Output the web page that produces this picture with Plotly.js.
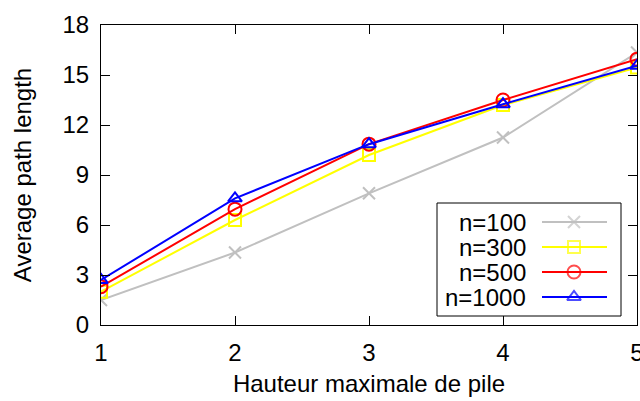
<!DOCTYPE html>
<html><head><meta charset="utf-8">
<script src="https://cdn.plot.ly/plotly-3.0.1.min.js"></script>
<style>body{margin:0;background:#fff}#c{width:640px;height:401px}</style>
</head><body><div id="c"></div>
<script>
const heights = [1, 2, 3, 4, 5];
const xTickLabels = ['1', '2', '3', '4', '5'];
const seriesNames = ['n=100', 'n=300', 'n=500', 'n=1000'];
const n100  = [1.5, 4.35, 7.9, 11.25, 16.35];
const n300  = [2.0, 6.3, 10.2, 13.2, 15.45];
const n500  = [2.3, 6.95, 10.85, 13.5, 15.95];
const n1000 = [2.7, 7.6, 10.85, 13.25, 15.55];
const yTicks = [0, 3, 6, 9, 12, 15, 18];

const seriesValues = [n100, n300, n500, n1000];
const colors = ['#c0c0c0', '#ffff00', '#ff0000', '#0000ff'];
const symbols = ['x-thin-open', 'square-open', 'circle-open', 'triangle-up-open'];
const msizes = [12, 12, 13, 12];
const FONT = 'Liberation Sans, Arial, Helvetica, sans-serif';

// plot geometry (pixels)
const W = 640, H = 401, L = 101, R = 3, T = 25, B = 76;
const PW = W - L - R, PH = H - T - B;
const px = v => (v - L) / PW;
const py = v => (H - B - v) / PH;

// legend geometry
const legBox = {x0: px(437), x1: px(621), y0: py(316), y1: py(203)};
const legTextX = px(528);
const legLine = [px(542), px(574), px(607)];
const legRows = [222, 247, 272, 297].map(py);

const traces = [];
seriesValues.forEach((vals, i) => {
  traces.push({
    x: heights, y: vals, type: 'scatter', mode: 'lines+markers',
    name: seriesNames[i], showlegend: false,
    line: {color: colors[i], width: 2},
    marker: {symbol: symbols[i], size: msizes[i], color: colors[i],
             line: {color: colors[i], width: 2}}
  });
});
seriesNames.forEach((nm, i) => {
  traces.push({
    x: legLine, y: [legRows[i], legRows[i], legRows[i]],
    xaxis: 'x2', yaxis: 'y2', type: 'scatter', mode: 'lines+markers',
    showlegend: false, hoverinfo: 'skip', cliponaxis: false,
    line: {color: colors[i], width: 2},
    marker: {symbol: symbols[i], size: [0, msizes[i], 0], color: colors[i],
             line: {color: colors[i], width: 2}}
  });
});

const annotations = seriesNames.map((nm, i) => ({
  text: nm, xref: 'paper', yref: 'paper', x: legTextX, y: legRows[i],
  xanchor: 'right', yanchor: 'middle', showarrow: false,
  font: {family: FONT, size: 24, color: '#000'}
}));

const axisCommon = {
  showline: true, linecolor: '#000', linewidth: 1, mirror: 'ticks',
  ticks: 'inside', ticklen: 9, tickcolor: '#000', tickwidth: 1,
  showgrid: false, zeroline: false, ticklabeloverflow: 'allow',
  tickfont: {family: FONT, size: 24, color: '#000'}
};

const layout = {
  width: W, height: H,
  margin: {l: L, r: R, t: T, b: B, pad: 0},
  paper_bgcolor: '#fff', plot_bgcolor: '#fff',
  showlegend: false,
  xaxis: Object.assign({}, axisCommon, {
    range: [1, 5], tickvals: heights, ticktext: xTickLabels, ticklabelstandoff: 6,
    title: {text: 'Hauteur maximale de pile', font: {family: FONT, size: 24, color: '#000'}, standoff: 10}
  }),
  yaxis: Object.assign({}, axisCommon, {
    range: [0, 18], tickvals: yTicks, ticktext: yTicks.map(String), ticklabelstandoff: 6,
    title: {text: 'Average path length', font: {family: FONT, size: 24, color: '#000'}, standoff: 24}
  }),
  xaxis2: {overlaying: 'x', range: [0, 1], visible: false, fixedrange: true},
  yaxis2: {overlaying: 'y', range: [0, 1], visible: false, fixedrange: true},
  shapes: [{
    type: 'rect', xref: 'paper', yref: 'paper',
    x0: legBox.x0, x1: legBox.x1, y0: legBox.y0, y1: legBox.y1,
    line: {color: '#000', width: 1}, fillcolor: 'rgba(255,255,255,0)', layer: 'below'
  }],
  annotations: annotations
};

Plotly.newPlot('c', traces, layout, {staticPlot: true, displayModeBar: false});
</script>
</body></html>
